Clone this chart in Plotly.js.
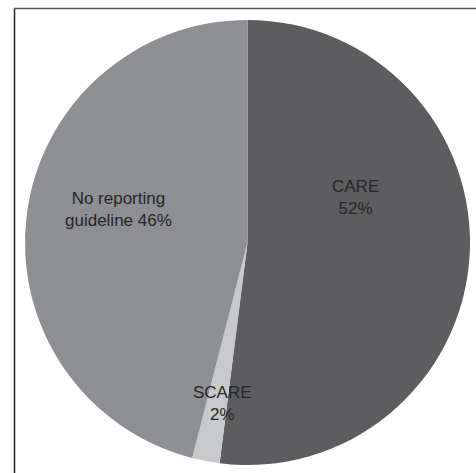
<!DOCTYPE html>
<html>
<head>
<meta charset="utf-8">
<script src="https://cdn.plot.ly/plotly-3.0.1.min.js"></script>
<style>
  html, body { margin: 0; padding: 0; background: #ffffff; }
  #chart { width: 476px; height: 473px; }
</style>
</head>
<body>
<div id="chart"></div>
<script>
// ---- Data ----
const categories = ['CARE', 'SCARE', 'No reporting guideline'];
const displayLabels = ['CARE', 'SCARE', 'No reporting<br>guideline'];
const percentages = [52, 2, 46];

// ---- Styles / layout config ----
const sliceColors = ['#5d5d5f', '#c8c9cb', '#8e8f92'];
// label anchor positions in paper coordinates (x, y)
const labelPosX = [0.7458, 0.4664, 0.2479];
const labelPosY = [0.5814, 0.1459, 0.5581];
const labelBreak = [true, true, false];

const W = 476, H = 473;

const trace = {
  type: 'pie',
  labels: categories,
  values: percentages,
  sort: false,
  direction: 'clockwise',
  rotation: 0,
  marker: { colors: sliceColors, line: { width: 0 } },
  textinfo: 'none',
  hoverinfo: 'none',
  showlegend: false,
  domain: { x: [25 / W, 470 / W], y: [8 / H, 453 / H] }
};

const annotations = categories.map((c, i) => ({
  xref: 'paper', yref: 'paper',
  x: labelPosX[i], y: labelPosY[i],
  xanchor: 'center', yanchor: 'middle',
  text: displayLabels[i] + (labelBreak[i] ? '<br>' : ' ') + percentages[i] + '%',
  showarrow: false,
  align: 'center',
  font: { family: '"Liberation Sans", Arial, sans-serif', size: 17, color: '#262626' }
}));

const layout = {
  width: W, height: H,
  margin: { l: 0, r: 0, t: 0, b: 0 },
  paper_bgcolor: '#ffffff',
  plot_bgcolor: '#ffffff',
  showlegend: false,
  annotations: annotations,
  shapes: [
    { type: 'line', xref: 'paper', yref: 'paper', x0: 14.5 / W, x1: 1.05, y0: (H - 8.5) / H, y1: (H - 8.5) / H,
      line: { color: '#555555', width: 1.5 } },
    { type: 'line', xref: 'paper', yref: 'paper', x0: 14.5 / W, x1: 14.5 / W, y0: -0.05, y1: (H - 8.5) / H,
      line: { color: '#222222', width: 1.5 } }
  ]
};

Plotly.newPlot('chart', [trace], layout, { displayModeBar: false, staticPlot: true });
</script>
</body>
</html>
